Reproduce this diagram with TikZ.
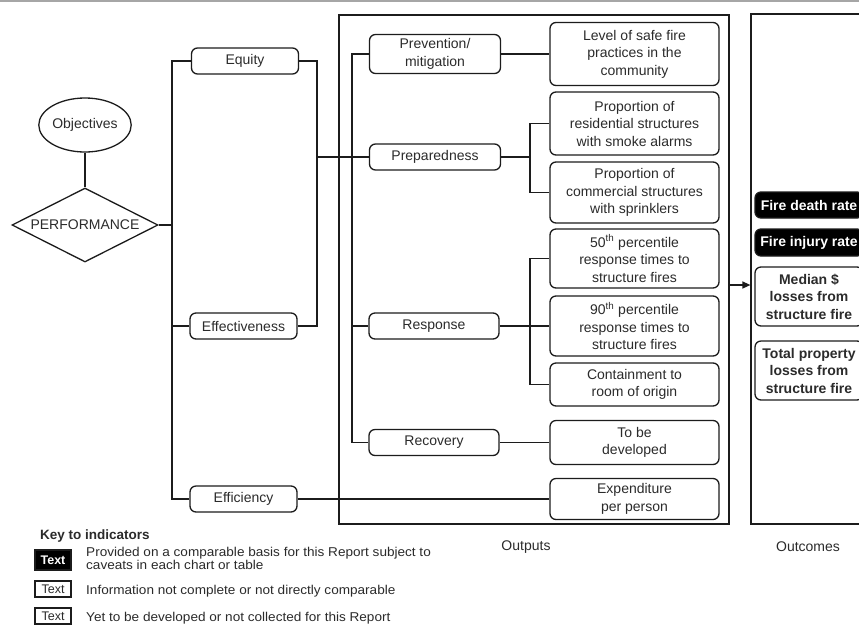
\documentclass[tikz,border=0pt]{standalone}
\usepackage{fontspec}
\setmainfont{Liberation Sans}
\newfontfamily\keyfam[FakeStretch=1.06]{Liberation Sans}
\usetikzlibrary{shapes.geometric,arrows.meta}
\definecolor{linec}{HTML}{1C1C1C}
\definecolor{textc}{HTML}{2B2B2B}
\newcommand\basefont{\fontsize{14}{17.5}\selectfont}
\newcommand\keyfont{\keyfam\fontsize{12.8}{13}\selectfont}
\tikzset{
  ln/.style={draw=linec, line width=1.3pt},
  rbox/.style={draw=linec, line width=1.3pt, rounded corners=6pt, align=center,
    inner sep=0pt, text=textc, font=\basefont},
  lbox/.style={rbox, minimum width=107pt, minimum height=26pt},
  mbox/.style={rbox, minimum width=131pt, minimum height=26pt},
  obox/.style={rbox, minimum width=169pt},
  cbox/.style={rbox, minimum width=108pt, font=\basefont\bfseries},
  dark/.style={cbox, fill=black, text=white, minimum height=26pt},
  frame/.style={draw=linec, line width=1.2pt, inner sep=0pt},
  caption/.style={text=textc, font=\basefont},
  keytxt/.style={text=textc, font=\keyfont, anchor=base west, inner sep=0pt},
  keybox/.style={draw=linec, line width=1.1pt, inner sep=0pt, minimum width=36pt,
    minimum height=16pt, text=textc, font=\fontsize{12.5}{14}\selectfont}
}
\begin{document}
\begin{tikzpicture}[x=1pt,y=-1pt]
\useasboundingbox (0,0) rectangle (859,625);
\fill[white] (0,0) rectangle (859,625);
\draw[gray!70, line width=1.5pt] (0,1) -- (859,1);

% objectives / performance
\node[draw=linec, line width=1.3pt, ellipse, minimum width=86pt, minimum height=54pt,
  inner sep=0pt, text=textc, font=\basefont] (obj) at (85,125) {Objectives};
\node[draw=linec, line width=1.3pt, diamond, aspect=2, minimum width=146pt,
  minimum height=74pt, inner sep=0pt, text=textc, font=\basefont] (perf) at (85,225) {PERFORMANCE};
\draw[ln] (obj.south) -- (perf.north);

% first-level objectives
\node[lbox] (equity) at (245,61) {Equity};
\node[lbox] (effect) at (243.5,326) {Effectiveness};
\node[lbox] (effic) at (243.5,499) {Efficiency};

% output frames
\node[frame, minimum width=390pt, minimum height=509pt] (outputs) at (534,269.5) {};
\node[frame, minimum width=120pt, minimum height=510pt] (outcomes) at (811,269) {};
\node[caption] (outlbl) at (526,547) {Outputs};
\node[caption] (outclbl) at (808,547) {Outcomes};

% service areas
\node[mbox, minimum height=39pt] (prev) at (435,54) {Prevention/\\mitigation};
\node[mbox] (prep) at (435,157) {Preparedness};
\node[mbox, minimum width=130pt] (resp) at (434,326) {Response};
\node[mbox, minimum width=130pt] (recov) at (434,442.5) {Recovery};

% output indicators
\node[obox, minimum height=63pt] (level) at (634.5,54) {Level of safe fire\\practices in the\\community};
\node[obox, minimum height=63pt] (resid) at (634.5,123.5) {Proportion of\\residential structures\\with smoke alarms};
\node[obox, minimum height=61pt] (comm) at (634.5,192.5) {Proportion of\\commercial structures\\with sprinklers};
\node[obox, minimum height=59pt] (p50) at (634.5,258.5) {50\textsuperscript{th} percentile\\response times to\\structure fires};
\node[obox, minimum height=60pt] (p90) at (634.5,326) {90\textsuperscript{th} percentile\\response times to\\structure fires};
\node[obox, minimum height=43pt] (contain) at (634.5,384.5) {Containment to\\room of origin};
\node[obox, minimum height=44pt] (tobe) at (634.5,442.5) {To be\\developed};
\node[obox, minimum height=41pt] (expend) at (634.5,499) {Expenditure\\per person};

% outcome indicators
\node[dark] (death) at (809,205) {Fire death rate};
\node[dark, minimum height=27pt] (injury) at (809,242.5) {Fire injury rate};
\node[cbox, minimum height=59pt] (median) at (809,296.5) {Median \$\\losses from\\structure fire};
\node[cbox, minimum height=59pt] (total) at (809,370.5) {Total property\\losses from\\structure fire};

% connectors
\coordinate (lbus) at (172,0);
\coordinate (mid) at (317,157);
\coordinate (obus) at (352,0);
\coordinate (ibus) at (530,0);
\coordinate (arr) at (740,285);

\draw[ln] (perf.east) -- (perf.east -| lbus);
\draw[ln] (equity.west) -- (equity.west -| lbus) -- (effic.west -| lbus) -- (effic.west);
\draw[ln] (effect.west) -- (effect.west -| lbus);
\draw[ln] (equity.east) -| (mid) |- (effect.east);
\draw[ln] (mid) -- (prep.west);
\draw[ln] (prev.west) -- (prev.west -| obus) -- (recov.west -| obus) -- (recov.west);
\draw[ln] (resp.west) -- (resp.west -| obus);
\draw[ln] (prev.east) -- (level.west);
\draw[ln] (prep.east) -- (prep.east -| ibus);
\draw[ln] (resid.west) -- (resid.west -| ibus) -- (comm.west -| ibus) -- (comm.west);
\draw[ln] (resp.east) -- (p90.west);
\draw[ln] (p50.west) -- (p50.west -| ibus) -- (contain.west -| ibus) -- (contain.west);
\draw[ln] (recov.east) -- (tobe.west);
\draw[ln] (effic.east) -- (expend.west);
\draw[ln, -{Triangle[length=8pt,width=7pt]}] (arr -| outputs.east) -- (arr -| outcomes.west);

% key
\node[anchor=base west, inner sep=0pt, text=textc, font=\fontsize{13.5}{16}\selectfont\bfseries]
  (keyhead) at (40,539) {Key to indicators};
\node[keybox, fill=black, text=white, minimum width=36pt, minimum height=20pt,
  font=\fontsize{12.5}{14}\selectfont\bfseries] (k1) at (53,560) {Text};
\node[keytxt] (k1t) at (86,556) {Provided on a comparable basis for this Report subject to};
\node[keytxt] (k1u) at (86,569) {caveats in each chart or table};
\node[keybox] (k2) at (53,589) {Text};
\node[keytxt] (k2t) at (86,594) {Information not complete or not directly comparable};
\node[keybox] (k3) at (53,616) {Text};
\node[keytxt] (k3t) at (86,621) {Yet to be developed or not collected for this Report};
\end{tikzpicture}
\end{document}
